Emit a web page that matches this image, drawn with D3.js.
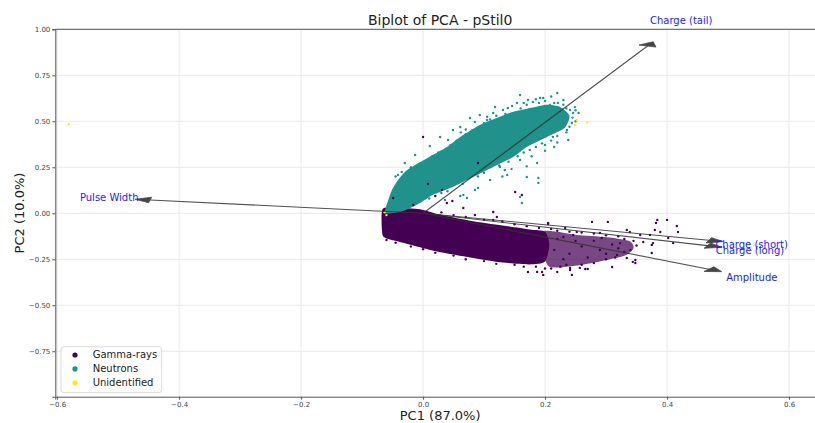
<!DOCTYPE html>
<html>
<head>
<meta charset="utf-8">
<script src="https://cdn.jsdelivr.net/npm/d3@7"></script>
<style>
  body { margin: 0; background: #fff; }
  text { font-family: "DejaVu Sans", sans-serif; }
</style>
</head>
<body>
<div class="chart"></div>
<script>
// tick values
var xTicks = [-0.6, -0.4, -0.2, 0.0, 0.2, 0.4, 0.6];
var yTicks = [-0.75, -0.5, -0.25, 0.0, 0.25, 0.5, 0.75, 1.0];

// classes
var classNames = ["Gamma-rays", "Neutrons", "Unidentified"];
var classColors = ["#440154", "#21918c", "#fde725"];

// loadings (PC1, PC2) of each feature
var features = ["Charge (tail)", "Charge (short)", "Charge (long)", "Amplitude", "Pulse Width"];
var loadPC1 = [0.368, 0.4685, 0.466, 0.4687, -0.4475];
var loadPC2 = [0.909, -0.1467, -0.176, -0.3038, 0.0723];

// outline of the dense neutron cloud (PC1, PC2)
var neutronCore = [
  [-0.062, 0.002], [-0.057, 0.072], [-0.051, 0.127], [-0.041, 0.181], [-0.026, 0.235],
  [0.007, 0.3], [0.039, 0.36], [0.061, 0.415], [0.093, 0.48], [0.126, 0.525],
  [0.148, 0.552], [0.18, 0.575], [0.203, 0.59], [0.225, 0.578], [0.24, 0.53],
  [0.232, 0.464], [0.203, 0.415], [0.17, 0.36], [0.148, 0.306], [0.115, 0.252],
  [0.082, 0.197], [0.049, 0.143], [0.016, 0.1], [-0.005, 0.056], [-0.021, 0.029], [-0.038, 0.007]
];

// outline of the dense gamma cloud
var gammaCore = [
  [-0.066, 0.025], [-0.045, 0.032], [-0.005, 0.022], [0.025, -0.005], [0.077, -0.04],
  [0.13, -0.066], [0.175, -0.088], [0.2, -0.1], [0.207, -0.17], [0.2, -0.262],
  [0.175, -0.278], [0.131, -0.268], [0.077, -0.24], [0.023, -0.208], [-0.033, -0.16],
  [-0.057, -0.14], [-0.066, -0.122], [-0.068, -0.05]
];

// thinner tail of the gamma cloud
var gammaTail = [
  [0.195, -0.1], [0.257, -0.12], [0.307, -0.132], [0.339, -0.152], [0.345, -0.19],
  [0.331, -0.23], [0.29, -0.262], [0.249, -0.285], [0.205, -0.285]
];

// scattered neutron points
var neutronPts = [
  [0.115, 0.545], [0.131, 0.561], [0.139, 0.572], [0.154, 0.6], [0.18, 0.605],
  [0.192, 0.627], [0.197, 0.627], [0.22, 0.654], [0.221, 0.6], [0.241, 0.561],
  [0.246, 0.545], [0.236, 0.453], [0.238, 0.398], [0.213, 0.415], [0.187, 0.273],
  [0.17, 0.197], [0.189, 0.192], [0.189, 0.165], [0.159, 0.089], [0.162, 0.056],
  [0.138, 0.208], [0.126, 0.252], [0.09, 0.138], [0.072, 0.083], [0.066, 0.1],
  [0.041, 0.398], [-0.03, 0.273], [0.105, 0.507], [0.085, 0.496],
  [0.061, 0.469], [0.049, 0.453], [0.028, 0.415], [0.23, 0.616], [0.208, 0.589],
  [0.172, 0.616], [0.146, 0.583], [0.249, 0.577], [0.225, 0.507], [0.244, 0.491],
  [0.205, 0.48], [0.216, 0.534], [0.2, 0.371], [0.175, 0.344], [0.159, 0.29],
  [0.134, 0.235], [0.11, 0.181], [0.085, 0.127], [0.061, 0.094], [0.036, 0.072],
  [0.011, 0.366], [-0.013, 0.317], [-0.041, 0.208], [0.093, 0.534], [0.077, 0.518],
  [0.118, 0.578], [0.159, 0.643],
  [-0.045, 0.2], [-0.035, 0.225], [-0.02, 0.25], [-0.005, 0.27], [0.015, 0.31],
  [0.025, 0.33], [0.045, 0.37], [0.055, 0.395], [0.07, 0.43], [0.08, 0.45],
  [0.1, 0.49], [0.11, 0.51], [0.135, 0.54], [0.16, 0.57], [0.17, 0.59],
  [0.19, 0.6], [0.2, 0.61], [0.215, 0.6], [0.23, 0.59], [0.235, 0.57],
  [0.245, 0.52], [0.25, 0.5], [0.24, 0.47], [0.235, 0.44], [0.22, 0.42],
  [0.21, 0.395], [0.195, 0.38], [0.185, 0.36], [0.165, 0.33], [0.155, 0.31],
  [0.14, 0.28], [0.125, 0.26], [0.1, 0.22], [0.09, 0.2], [0.065, 0.16],
  [0.04, 0.12], [0.03, 0.11], [0.01, 0.08], [0.178, 0.31], [0.2, 0.34],
  [0.215, 0.36], [0.22, 0.385], [0.145, 0.24], [0.17, 0.255], [0.13, 0.2],
  [0.255, 0.545], [0.25, 0.56], [0.185, 0.62], [0.165, 0.6], [0.21, 0.635],
  [0.12, 0.53], [0.105, 0.525], [0.07, 0.455], [0.062, 0.44]
];

// scattered gamma points
var gammaPts = [
  [0.0, 0.415], [0.09, 0.273], [0.008, 0.159], [0.031, 0.127], [0.151, 0.116],
  [0.162, 0.1], [-0.049, 0.083], [-0.016, 0.045], [0.039, 0.056], [0.048, 0.067],
  [0.066, 0.029], [0.115, 0.007], [0.02, 0.094],
  [0.277, -0.047], [0.303, -0.047], [0.384, -0.036], [0.382, -0.053], [0.4, -0.036],
  [0.38, -0.091], [0.389, -0.102], [0.402, -0.134], [0.375, -0.172], [0.372, -0.118],
  [0.361, -0.156], [0.339, -0.102], [0.334, -0.091], [0.348, -0.254], [0.334, -0.243],
  [0.318, -0.227], [0.257, -0.297], [0.266, -0.303], [0.27, -0.303], [0.244, -0.335],
  [0.241, -0.297], [0.23, -0.129], [0.246, -0.118], [0.205, -0.053], [0.197, -0.335],
  [0.22, -0.319], [0.187, -0.319], [0.31, -0.292], [0.293, -0.134], [0.323, -0.162],
  [0.416, -0.069], [0.418, -0.102], [0.41, -0.162], [0.375, -0.216], [0.344, -0.264],
  [0.172, -0.319], [0.195, -0.319], [0.241, -0.308], [0.121, -0.02], [0.205, -0.058],
  [0.085, -0.009], [0.115, -0.036], [0.233, -0.08], [0.252, -0.102], [0.29, -0.107],
  [0.356, -0.118], [0.377, -0.162], [0.348, -0.27],
  [-0.06, -0.145], [-0.045, -0.16], [-0.02, -0.18], [0.0, -0.195], [0.02, -0.215],
  [0.05, -0.23], [0.07, -0.25], [0.1, -0.26], [0.12, -0.275], [0.15, -0.28],
  [0.165, -0.29], [0.185, -0.29], [0.21, -0.3], [0.225, -0.29], [0.235, -0.28],
  [0.26, -0.28], [0.28, -0.27], [0.3, -0.25], [0.315, -0.24], [0.33, -0.21],
  [0.34, -0.2], [0.35, -0.175], [0.345, -0.15], [0.33, -0.14], [0.32, -0.125],
  [0.3, -0.12], [0.28, -0.11], [0.26, -0.105], [0.24, -0.1], [0.22, -0.095],
  [0.21, -0.085], [0.19, -0.08], [0.17, -0.07], [0.15, -0.06], [0.13, -0.045],
  [0.1, -0.035], [0.07, -0.02], [0.05, -0.01], [0.03, 0.005], [0.215, -0.2],
  [0.24, -0.22], [0.26, -0.18], [0.27, -0.24], [0.29, -0.2], [0.31, -0.17],
  [0.3, -0.22], [0.25, -0.15], [0.28, -0.15], [0.23, -0.25], [0.32, -0.19],
  [0.22, -0.14], [0.2, -0.3]
];

// unidentified points
var unknownPts = [
  [-0.581, 0.484], [0.252, 0.507], [0.269, 0.493], [0.249, 0.48], [-0.063, 0.005], [-0.06, -0.01]
];

var svgWidth = 815;
var svgHeight = 423;

var margin = { top: 29.3, bottom: 26.3, left: 55.3, right: -10 };
var width = svgWidth - margin.left - margin.right;
var height = svgHeight - margin.top - margin.bottom;

var svg = d3.select(".chart")
  .append("svg")
  .attr("width", svgWidth)
  .attr("height", svgHeight);

var chartGroup = svg.append("g")
  .attr("transform", `translate(${margin.left}, ${margin.top})`);

// scales
var xScale = d3.scaleLinear().domain([-0.603, 0.659]).range([0, width]);
var yScale = d3.scaleLinear().domain([-0.997, 1.0]).range([height, 0]);

// grid
chartGroup.selectAll(".vgrid").data(xTicks).enter().append("line")
  .attr("x1", d => xScale(d)).attr("x2", d => xScale(d))
  .attr("y1", 0).attr("y2", height)
  .attr("stroke", "#e8e8e8").attr("stroke-width", 1);
chartGroup.selectAll(".hgrid").data(yTicks).enter().append("line")
  .attr("x1", 0).attr("x2", width)
  .attr("y1", d => yScale(d)).attr("y2", d => yScale(d))
  .attr("stroke", "#e8e8e8").attr("stroke-width", 1);

// axes
var xAxis = d3.axisBottom(xScale).tickValues(xTicks).tickSize(3).tickPadding(2)
  .tickFormat(d3.format(".1f"));
var yAxis = d3.axisLeft(yScale).tickValues(yTicks).tickSize(3).tickPadding(2)
  .tickFormat(d3.format(".2f"));

var gx = chartGroup.append("g")
  .attr("transform", `translate(0, ${height})`)
  .call(xAxis);
var gy = chartGroup.append("g").call(yAxis);

[gx, gy].forEach(function (g) {
  g.select(".domain").attr("stroke", "#555");
  g.selectAll(".tick line").attr("stroke", "#555");
  g.selectAll(".tick text").attr("fill", "#444").style("font-size", "7px")
    .style("font-family", "DejaVu Sans");
});

chartGroup.append("line")
  .attr("x1", 0).attr("x2", width).attr("y1", 0).attr("y2", 0)
  .attr("stroke", "#555");

// scatter clouds
var blob = d3.line()
  .x(d => xScale(d[0]))
  .y(d => yScale(d[1]))
  .curve(d3.curveCardinalClosed.tension(0.3));

chartGroup.append("path").datum(gammaTail)
  .attr("d", blob).attr("fill", classColors[0]).attr("opacity", 0.72);
chartGroup.append("path").datum(gammaCore)
  .attr("d", blob).attr("fill", classColors[0]);
chartGroup.append("path").datum(neutronCore)
  .attr("d", blob).attr("fill", classColors[1]);

chartGroup.selectAll(".npt").data(neutronPts).enter().append("circle")
  .attr("cx", d => xScale(d[0])).attr("cy", d => yScale(d[1]))
  .attr("r", 1.2).attr("fill", classColors[1]);
chartGroup.selectAll(".gpt").data(gammaPts).enter().append("circle")
  .attr("cx", d => xScale(d[0])).attr("cy", d => yScale(d[1]))
  .attr("r", 1.2).attr("fill", classColors[0]);
chartGroup.selectAll(".upt").data(unknownPts).enter().append("circle")
  .attr("cx", d => xScale(d[0])).attr("cy", d => yScale(d[1]))
  .attr("r", 1.2).attr("fill", classColors[2]);

// loading arrows (head drawn in data units like matplotlib's arrow)
var headW = 0.03, headL = 0.025;
features.forEach(function (name, i) {
  var dx = loadPC1[i], dy = loadPC2[i];
  var len = Math.sqrt(dx * dx + dy * dy);
  var ux = dx / len, uy = dy / len;
  var tip = [dx + ux * headL, dy + uy * headL];
  var b1 = [dx - uy * headW / 2, dy + ux * headW / 2];
  var b2 = [dx + uy * headW / 2, dy - ux * headW / 2];

  chartGroup.append("line")
    .attr("x1", xScale(0)).attr("y1", yScale(0))
    .attr("x2", xScale(dx)).attr("y2", yScale(dy))
    .attr("stroke", "#333").attr("stroke-width", 1.1).attr("opacity", 0.85);

  chartGroup.append("path")
    .attr("d", d3.line().x(p => xScale(p[0])).y(p => yScale(p[1]))([b1, tip, b2]) + "Z")
    .attr("fill", "#333").attr("stroke", "#333").attr("stroke-width", 0.8).attr("opacity", 0.9);

  chartGroup.append("text")
    .attr("x", xScale(dx * 1.15)).attr("y", yScale(dy * 1.15))
    .attr("text-anchor", "middle").attr("dominant-baseline", "central")
    .attr("fill", "#1a1aff").style("font-size", "10px")
    .text(name);
});

// legend
var legend = chartGroup.append("g").attr("transform", "translate(5.7, 317.4)");
legend.append("rect")
  .attr("width", 100.7).attr("height", 46).attr("rx", 3)
  .attr("fill", "#fff").attr("fill-opacity", 0.8)
  .attr("stroke", "#d0d0d0").attr("stroke-width", 0.8);
classNames.forEach(function (name, i) {
  legend.append("circle")
    .attr("cx", 14).attr("cy", 8.3 + i * 13.9).attr("r", 2.6)
    .attr("fill", classColors[i]);
  legend.append("text")
    .attr("x", 31.7).attr("y", 8.3 + i * 13.9)
    .attr("dominant-baseline", "central")
    .attr("fill", "#222").style("font-size", "10px")
    .text(name);
});

// title and axis labels
svg.append("text")
  .attr("x", margin.left + width / 2).attr("y", 24.5)
  .attr("text-anchor", "middle").attr("fill", "#222")
  .style("font-size", "14px")
  .text("Biplot of PCA - pStil0");

svg.append("text")
  .attr("x", margin.left + width / 2).attr("y", 420)
  .attr("text-anchor", "middle").attr("fill", "#222")
  .style("font-size", "13px")
  .text("PC1 (87.0%)");

svg.append("text")
  .attr("transform", `translate(24, ${margin.top + height / 2}) rotate(-90)`)
  .attr("text-anchor", "middle").attr("fill", "#222")
  .style("font-size", "13px")
  .text("PC2 (10.0%)");
</script>
</body>
</html>
